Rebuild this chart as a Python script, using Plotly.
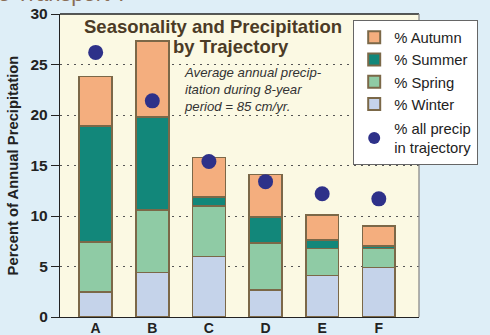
import plotly.graph_objects as go

categories = ["A", "B", "C", "D", "E", "F"]
winter = [2.5, 4.4, 6.0, 2.7, 4.1, 4.9]
spring = [4.9, 6.2, 5.0, 4.6, 2.7, 1.9]
summer = [11.5, 9.2, 0.9, 2.6, 0.8, 0.25]
autumn = [4.9, 7.5, 3.9, 4.2, 2.5, 1.95]
all_precip = [26.2, 21.4, 15.4, 13.4, 12.2, 11.7]
y_ticks = [0, 5, 10, 15, 20, 25, 30]

series_names = ["% Winter", "% Spring", "% Summer", "% Autumn"]
series_vals = [winter, spring, summer, autumn]
series_cols = ["#c5d3ea", "#8fcba5", "#12877a", "#f4ae7e"]

outline = "#7b6848"
dark = "#222222"
brown = "#4b3b26"
paper = "#deeef7"
FONT = "Liberation Sans, Arial"

fig = go.Figure()

for nm, vals, col in zip(series_names, series_vals, series_cols):
    fig.add_trace(go.Bar(
        x=categories, y=vals, name=nm, legendgroup="bars",
        marker=dict(color=col, line=dict(color=outline, width=1.6)),
        width=0.58,
    ))

fig.add_trace(go.Scatter(
    x=categories, y=all_precip, mode="markers",
    name="% all precip<br>in trajectory", legendgroup="dots",
    marker=dict(size=15, color="#2e3189", line=dict(width=0)),
))

fig.add_annotation(
    text="Seasonality and Precipitation", xref="paper", yref="paper",
    x=(213 - 60) / 359, y=1 - (27 - 14) / 303, xanchor="center", yanchor="middle",
    showarrow=False, font=dict(family=FONT, size=18.5, color=brown, weight="bold"),
)
fig.add_annotation(
    text="by Trajectory", xref="paper", yref="paper",
    x=(231 - 60) / 359, y=1 - (46.5 - 14) / 303, xanchor="center", yanchor="middle",
    showarrow=False, font=dict(family=FONT, size=18.5, color=brown, weight="bold"),
)
fig.add_annotation(
    text="<i>Average annual precip-<br>itation during 8-year<br>period = 85 cm/yr.</i>",
    xref="paper", yref="paper", align="left",
    x=(182 - 60) / 359, y=1 - (90 - 14) / 303, xanchor="left", yanchor="middle",
    showarrow=False, font=dict(family=FONT, size=13.2, color="#333333"),
)
fig.add_annotation(
    text="e Transport ?", xref="paper", yref="paper",
    x=(-4 - 60) / 359, y=1 + (14 - 8) / 303, xanchor="left", yanchor="bottom",
    showarrow=False, font=dict(family=FONT, size=22, color="#8a6d55"),
)

fig.update_layout(
    width=490, height=335,
    margin=dict(l=60, r=71, t=14, b=18, autoexpand=False),
    paper_bgcolor=paper,
    plot_bgcolor="#fbf9e3",
    barmode="stack",
    showlegend=True,
    legend=dict(
        x=(353 - 60) / 359, y=1 - (20 - 14) / 303, xanchor="left", yanchor="top",
        bgcolor="#ffffff", bordercolor="#666666", borderwidth=1.2,
        font=dict(family=FONT, size=14.8, color=dark),
        traceorder="reversed+grouped", tracegroupgap=2,
        itemsizing="constant",
    ),
    xaxis=dict(
        range=[-0.63, 5.71], showgrid=False,
        showline=True, linecolor=dark, linewidth=1.3, mirror=False,
        ticks="", ticklabelstandoff=-2,
        tickfont=dict(family=FONT, size=14, color=dark, weight="bold"),
        fixedrange=True,
    ),
    yaxis=dict(
        range=[0, 30], tickvals=y_ticks,
        showline=True, linecolor=dark, linewidth=1.3,
        ticks="outside", ticklen=8, tickcolor=dark, tickwidth=1.2,
        tickfont=dict(family=FONT, size=15.5, color=dark, weight="bold"),
        showgrid=True, gridcolor="#555555", gridwidth=1, griddash="2px,5px",
        zeroline=False,
        title=dict(text="Percent of Annual Precipitation", standoff=8,
                   font=dict(family=FONT, size=14.8, color=dark, weight="bold")),
    ),
    shapes=[
        dict(type="line", xref="paper", yref="paper", x0=0, x1=1, y0=1, y1=1,
             line=dict(color=dark, width=1.3)),
        dict(type="line", xref="paper", yref="paper", x0=1, x1=1, y0=0, y1=1,
             line=dict(color="#8a8a8a", width=1.3)),
    ],
)

fig.write_html(
    "out.html",
    config={"displayModeBar": False},
    post_script="document.body.style.margin='0';document.body.style.background='%s';" % paper,
)
